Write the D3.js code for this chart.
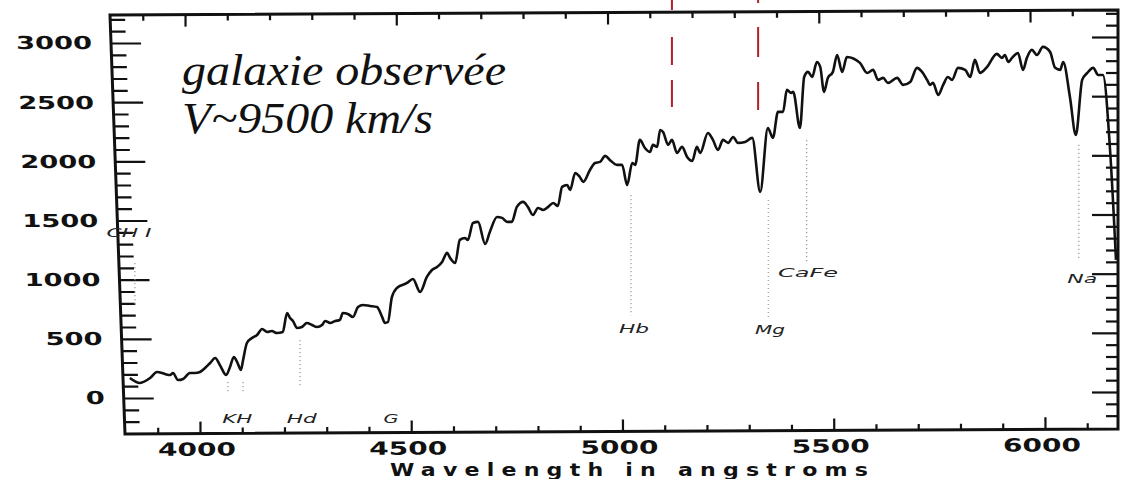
<!DOCTYPE html>
<html>
<head>
<meta charset="utf-8">
<script src="https://cdn.jsdelivr.net/npm/d3@7"></script>
<style>
  body { margin: 0; background: #fff; }
  svg { display: block; }
</style>
</head>
<body>
<div id="chart"></div>
<script>
// spectrum: wavelength (angstrom) and flux
const wavelength = [
  3834, 3858, 3882, 3898, 3917, 3929, 3936, 3948, 3960, 3976, 3988, 4000, 4012, 4024, 4036, 4047,
  4062, 4071, 4080, 4088, 4097, 4102, 4111, 4123, 4135, 4147, 4159, 4170, 4182, 4196, 4206, 4213,
  4220, 4230, 4241, 4253, 4265, 4277, 4289, 4296, 4308, 4320, 4331, 4338, 4350, 4362, 4374, 4386,
  4402, 4419, 4431, 4438, 4445, 4454, 4466, 4490, 4504, 4521, 4537, 4549, 4561, 4573, 4585, 4592,
  4604, 4615, 4627, 4634, 4646, 4658, 4675, 4686, 4703, 4715, 4727, 4738, 4750, 4765, 4776, 4788,
  4800, 4812, 4824, 4836, 4847, 4857, 4869, 4876, 4888, 4899, 4907, 4923, 4935, 4947, 4959, 4970,
  4987, 4999, 5011, 5023, 5030, 5041, 5053, 5065, 5072, 5082, 5089, 5096, 5108, 5117, 5129, 5141,
  5153, 5165, 5176, 5184, 5202, 5214, 5226, 5238, 5250, 5262, 5273, 5290, 5307, 5326, 5344, 5356,
  5368, 5380, 5389, 5399, 5404, 5420, 5430, 5439, 5449, 5460, 5468, 5477, 5486, 5498, 5508, 5520,
  5531, 5562, 5579, 5593, 5605, 5617, 5628, 5650, 5664, 5681, 5697, 5709, 5721, 5728, 5735, 5747,
  5759, 5770, 5780, 5794, 5811, 5823, 5834, 5846, 5863, 5886, 5898, 5905, 5913, 5922, 5936, 5948,
  5957, 5969, 5981, 5995, 6012, 6024, 6036, 6043, 6059, 6073, 6088, 6100, 6114, 6126, 6137, 6154,
  6168
]
const flux = [
  169, 127, 169, 220, 203, 194, 211, 152, 161, 211, 211, 220, 254, 296, 338, 279,
  194, 262, 347, 304, 237, 321, 465, 507, 533, 583, 558, 566, 549, 558, 718, 676,
  651, 592, 600, 634, 617, 600, 617, 651, 634, 651, 659, 718, 710, 685, 769, 786,
  778, 769, 685, 634, 642, 850, 930, 972, 1006, 896, 1023, 1082, 1107, 1150, 1226, 1183,
  1141, 1336, 1352, 1336, 1479, 1488, 1302, 1403, 1530, 1522, 1488, 1488, 1615, 1657, 1615, 1547,
  1606, 1589, 1615, 1648, 1623, 1784, 1800, 1758, 1902, 1868, 1826, 1927, 1986, 1995, 2046, 2012,
  1970, 1970, 1800, 1986, 1970, 2181, 2113, 2079, 2139, 2122, 2265, 2248, 2139, 2181, 2071, 2122,
  2037, 2003, 2122, 2071, 2240, 2181, 2096, 2181, 2156, 2206, 2156, 2164, 2198, 1741, 2282, 2198,
  2418, 2418, 2604, 2578, 2587, 2282, 2713, 2756, 2713, 2840, 2798, 2587, 2705, 2756, 2899, 2756,
  2882, 2832, 2747, 2773, 2688, 2705, 2663, 2705, 2646, 2671, 2790, 2756, 2688, 2646, 2663, 2561,
  2646, 2713, 2688, 2790, 2773, 2713, 2857, 2747, 2798, 2908, 2874, 2899, 2840, 2874, 2916, 2773,
  2874, 2942, 2899, 2967, 2925, 2790, 2773, 2840, 2544, 2223, 2688, 2747, 2790, 2730, 2730, 2096,
  1167
]

const xMajor = [4000, 4500, 5000, 5500, 6000]
const xMinor = [3900, 4100, 4200, 4300, 4400, 4600, 4700, 4800, 4900, 5100, 5200, 5300, 5400,
  5600, 5700, 5800, 5900, 6100]
const yMajor = [0, 500, 1000, 1500, 2000, 2500, 3000]
const yMinor = [-200, -100, 100, 200, 300, 400, 600, 700, 800, 900, 1100, 1200, 1300, 1400,
  1600, 1700, 1800, 1900, 2100, 2200, 2300, 2400, 2600, 2700, 2800, 2900, 3100, 3200]

// absorption line names, where the name sits
const lineNames = ['KH', 'Hd', 'G', 'Hb', 'Mg', 'CaFe', 'Na', 'CH I']
const lineNameX = [4088, 4241, 4452, 5027, 5349, 5439, 6088, 3832]
const lineNameY = [-211, -211, -211, 549, 541, 1023, 972, 1361]

// faint dotted markers under the lines: wavelength, top, bottom
const guideX = [4066, 4102, 4237, 5020, 5345, 5436, 6080, 3846]
const guideTop = [135, 135, 490, 1716, 1674, 2180, 2140, 1141]
const guideBottom = [42, 42, 93, 700, 660, 1140, 1170, 770]

// red dashed lines drawn on the scan
const redX = [5117, 5321]

const title = ['galaxie observée', 'V~9500 km/s']

const width = 1124
const height = 479

// the scanned frame is not quite square
const corner = { tl: [110, 15], tr: [1118, 10], br: [1118, 429], bl: [125, 434] }
const leftSkew = Math.atan((corner.bl[0] - corner.tl[0]) / (corner.bl[1] - corner.tl[1])) * 180 / Math.PI
const leftX0 = corner.bl[0] - corner.bl[1] * Math.tan(leftSkew * Math.PI / 180)
const bottomTilt = Math.atan((corner.br[1] - corner.bl[1]) / (corner.br[0] - corner.bl[0])) * 180 / Math.PI
const topTilt = Math.atan((corner.tr[1] - corner.tl[1]) / (corner.tr[0] - corner.tl[0])) * 180 / Math.PI
const topShift = -15
const rightShift = -6

const x = d3.scaleLinear().domain([4000, 6000]).range([200, 1045])
const y = d3.scaleLinear().domain([0, 3000]).range([398, 43])

const svg = d3.select('#chart')
  .append('svg')
  .attr('width', width)
  .attr('height', height)

svg.append('defs')
  .append('clipPath')
  .attr('id', 'plot')
  .append('polygon')
  .attr('points', [corner.tl, corner.tr, corner.br, corner.bl].map(p => p.join(',')).join(' '))

const tickAxis = (axis, size) => g => {
  g.call(axis.tickSize(size).tickFormat(''))
  g.select('.domain').remove()
  g.selectAll('line').attr('stroke', '#111').attr('stroke-width', 2.2)
}

// bottom and top ticks point inward
const bottomAxis = svg.append('g')
  .attr('transform', `rotate(${bottomTilt},${corner.bl[0]},${corner.bl[1]}) translate(0,${corner.bl[1]})`)
bottomAxis.append('g').call(tickAxis(d3.axisBottom(x).tickValues(xMajor), -12))
bottomAxis.append('g').call(tickAxis(d3.axisBottom(x).tickValues(xMinor), -6))

const topAxis = svg.append('g')
  .attr('transform', `rotate(${topTilt},${corner.tl[0]},${corner.tl[1]}) translate(${topShift},${corner.tl[1]})`)
topAxis.append('g').call(tickAxis(d3.axisTop(x).tickValues(xMajor), -12))
topAxis.append('g').call(tickAxis(d3.axisTop(x).tickValues(xMinor), -6))

const leftAxis = svg.append('g')
  .attr('transform', `translate(${leftX0},0) skewX(${leftSkew})`)
leftAxis.append('g').call(tickAxis(d3.axisLeft(y).tickValues(yMajor), -30))
leftAxis.append('g').call(tickAxis(d3.axisLeft(y).tickValues(yMinor), -15))

const rightAxis = svg.append('g')
  .attr('transform', `translate(${corner.tr[0]},${rightShift})`)
rightAxis.append('g').call(tickAxis(d3.axisRight(y).tickValues(yMajor), -26))
rightAxis.append('g').call(tickAxis(d3.axisRight(y).tickValues(yMinor), -12))

svg.append('polygon')
  .attr('points', [corner.tl, corner.tr, corner.br, corner.bl].map(p => p.join(',')).join(' '))
  .attr('fill', 'none')
  .attr('stroke', '#111')
  .attr('stroke-width', 3)

const tickFont = "'DejaVu Sans', sans-serif"

leftAxis.append('g')
  .selectAll('text')
  .data(yMajor)
  .enter()
  .append('text')
  .attr('x', -19)
  .attr('y', d => y(d) + 6.5)
  .attr('text-anchor', 'end')
  .attr('font-family', tickFont)
  .attr('font-weight', 'bold')
  .attr('font-size', 18)
  .attr('fill', '#111')
  .attr('textLength', d => String(d).length * 19)
  .attr('lengthAdjust', 'spacingAndGlyphs')
  .text(d => d)

bottomAxis.append('g')
  .selectAll('text')
  .data(xMajor)
  .enter()
  .append('text')
  .attr('x', d => x(d) - 3)
  .attr('y', 22)
  .attr('text-anchor', 'middle')
  .attr('font-family', tickFont)
  .attr('font-weight', 'bold')
  .attr('font-size', 18)
  .attr('fill', '#111')
  .attr('textLength', 78)
  .attr('lengthAdjust', 'spacingAndGlyphs')
  .text(d => d)

// wide plotter lettering: stretch the glyphs, then spread them out
svg.append('g')
  .attr('transform', 'translate(390,476) scale(1.3,1)')
  .append('text')
  .attr('x', 0)
  .attr('y', 0)
  .attr('font-family', tickFont)
  .attr('font-weight', 'bold')
  .attr('font-size', 17)
  .attr('fill', '#111')
  .attr('textLength', 478 / 1.3)
  .attr('lengthAdjust', 'spacing')
  .text('Wavelength in angstroms')

// dotted guides
svg.append('g')
  .selectAll('line')
  .data(guideX)
  .enter()
  .append('line')
  .attr('x1', d => x(d))
  .attr('x2', d => x(d))
  .attr('y1', (d, i) => y(guideTop[i]))
  .attr('y2', (d, i) => y(guideBottom[i]))
  .attr('stroke', '#9a9a9a')
  .attr('stroke-width', 1.2)
  .attr('stroke-dasharray', '1.2,2.8')

svg.append('g')
  .selectAll('text')
  .data(lineNames)
  .enter()
  .append('text')
  .attr('x', (d, i) => x(lineNameX[i]))
  .attr('y', (d, i) => y(lineNameY[i]))
  .attr('text-anchor', 'middle')
  .attr('font-family', tickFont)
  .attr('font-style', 'italic')
  .attr('font-size', 13)
  .attr('fill', '#222')
  .attr('textLength', d => d.replace(' ', '').length * 15)
  .attr('lengthAdjust', 'spacingAndGlyphs')
  .text(d => d)

const line = d3.line()
  .x(d => x(d[0]))
  .y(d => y(d[1]))
  .curve(d3.curveMonotoneX)

svg.append('path')
  .datum(d3.zip(wavelength, flux))
  .attr('clip-path', 'url(#plot)')
  .attr('d', line)
  .attr('fill', 'none')
  .attr('stroke', '#111')
  .attr('stroke-width', 2.6)
  .attr('stroke-linejoin', 'round')

const redDash = ['10,27,28,15,27,200', '3,24,30,25,28,200']

svg.append('g')
  .selectAll('line')
  .data(redX)
  .enter()
  .append('line')
  .attr('x1', d => x(d))
  .attr('x2', d => x(d))
  .attr('y1', 0)
  .attr('y2', 111)
  .attr('stroke', '#b3202a')
  .attr('stroke-width', 2)
  .attr('stroke-dasharray', (d, i) => redDash[i])

svg.append('g')
  .selectAll('text')
  .data(title)
  .enter()
  .append('text')
  .attr('x', 182)
  .attr('y', (d, i) => 85 + i * 48)
  .attr('font-family', "'Liberation Serif', 'Times New Roman', serif")
  .attr('font-style', 'italic')
  .attr('font-size', 44)
  .attr('fill', '#111')
  .attr('textLength', (d, i) => [324, 251][i])
  .attr('lengthAdjust', 'spacingAndGlyphs')
  .text(d => d)
</script>
</body>
</html>
